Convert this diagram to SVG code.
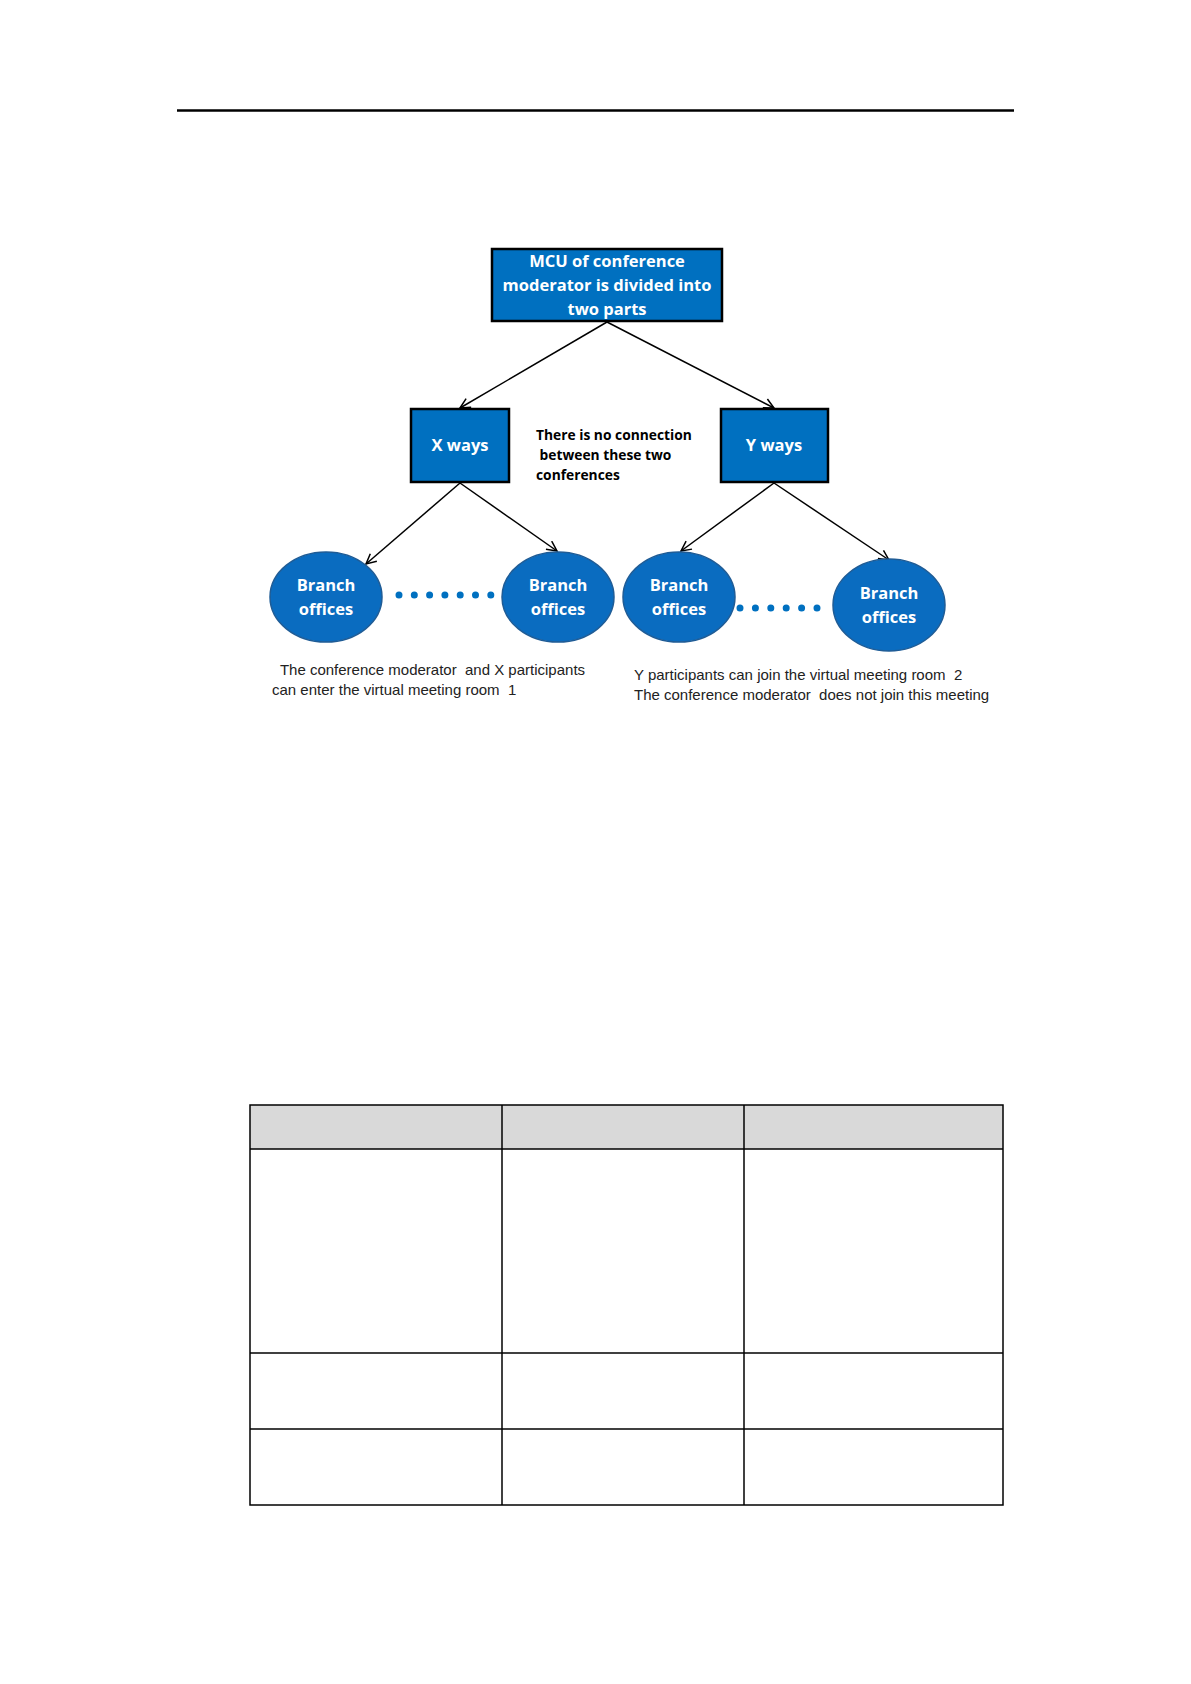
<svg xmlns="http://www.w3.org/2000/svg" width="1191" height="1684" viewBox="0 0 1191 1684">
<defs>
<style>
.box{fill:#0070C0;stroke:#000;stroke-width:2.5}
.oval{fill:#0A6CC0;stroke:#1F5C96;stroke-width:1.5}
.wt{font-family:"Open Sans","Liberation Sans",sans-serif;font-weight:bold;fill:#fff;font-size:16.5px;text-anchor:middle}
.bt{font-family:"Open Sans","Liberation Sans",sans-serif;font-weight:bold;fill:#000;font-size:13.8px;white-space:pre}
.cap{font-family:"Liberation Sans Narrow","Liberation Sans",sans-serif;fill:#222;font-size:15px;white-space:pre}
.conn{stroke:#000;stroke-width:1.5;fill:none;marker-end:url(#arr)}
.dots{stroke:#0070C0;stroke-width:7;stroke-linecap:round;fill:none}
.grid{stroke:#000;stroke-width:1.5;fill:none}
</style>
<marker id="arr" viewBox="0 0 12 12" refX="11" refY="6" markerWidth="12" markerHeight="12" markerUnits="userSpaceOnUse" orient="auto">
<path d="M1,1 L11,6 L1,11" fill="none" stroke="#000" stroke-width="1.5"/>
</marker>
</defs>
<rect width="1191" height="1684" fill="#fff"/>
<line x1="177" y1="110.5" x2="1014" y2="110.5" stroke="#000" stroke-width="2.5"/>

<g id="connectors">
<line class="conn" x1="607" y1="322" x2="460" y2="408"/>
<line class="conn" x1="607" y1="322" x2="774" y2="408"/>
<line class="conn" x1="460" y1="483" x2="366" y2="564"/>
<line class="conn" x1="460" y1="483" x2="557" y2="551"/>
<line class="conn" x1="774" y1="483" x2="681" y2="551"/>
<line class="conn" x1="774" y1="483" x2="889" y2="560"/>
<line class="dots" x1="399" y1="595" x2="492" y2="595" stroke-dasharray="0 15.3"/>
<line class="dots" x1="740" y1="608" x2="818" y2="608" stroke-dasharray="0 15.4"/>
</g>

<g id="mcu">
<rect class="box" x="492" y="249" width="230" height="72"/>
<text class="wt" x="607" y="267">MCU of conference</text>
<text class="wt" x="607" y="291">moderator is divided into</text>
<text class="wt" x="607" y="315">two parts</text>
</g>
<g id="xways">
<rect class="box" x="411" y="409" width="98" height="73"/>
<text class="wt" x="460" y="451">X ways</text>
</g>
<g id="yways">
<rect class="box" x="721" y="409" width="107" height="73"/>
<text class="wt" x="774" y="451">Y ways</text>
</g>
<g id="note">
<text class="bt" x="536" y="440">There is no connection</text>
<text class="bt" x="536" y="460"> between these two</text>
<text class="bt" x="536" y="480">conferences</text>
</g>
<g id="branch1">
<ellipse class="oval" cx="326" cy="597" rx="56" ry="45"/>
<text class="wt" x="326" y="591">Branch</text>
<text class="wt" x="326" y="615">offices</text>
</g>
<g id="branch2">
<ellipse class="oval" cx="558" cy="597" rx="56" ry="45"/>
<text class="wt" x="558" y="591">Branch</text>
<text class="wt" x="558" y="615">offices</text>
</g>
<g id="branch3">
<ellipse class="oval" cx="679" cy="597" rx="56" ry="45"/>
<text class="wt" x="679" y="591">Branch</text>
<text class="wt" x="679" y="615">offices</text>
</g>
<g id="branch4">
<ellipse class="oval" cx="889" cy="605" rx="56" ry="46"/>
<text class="wt" x="889" y="599">Branch</text>
<text class="wt" x="889" y="623">offices</text>
</g>
<g id="captions">
<text class="cap" x="276" y="675"> The conference moderator  and X participants</text>
<text class="cap" x="272" y="695">can enter the virtual meeting room  1</text>
<text class="cap" x="634" y="680">Y participants can join the virtual meeting room  2</text>
<text class="cap" x="634" y="700">The conference moderator  does not join this meeting</text>
</g>
<g id="table">
<rect x="250" y="1105" width="753" height="44" fill="#D9D9D9"/>
<rect class="grid" x="250" y="1105" width="753" height="400"/>
<line class="grid" x1="250" y1="1149" x2="1003" y2="1149"/>
<line class="grid" x1="250" y1="1353" x2="1003" y2="1353"/>
<line class="grid" x1="250" y1="1429" x2="1003" y2="1429"/>
<line class="grid" x1="502" y1="1105" x2="502" y2="1505"/>
<line class="grid" x1="744" y1="1105" x2="744" y2="1505"/>
</g>
</svg>
